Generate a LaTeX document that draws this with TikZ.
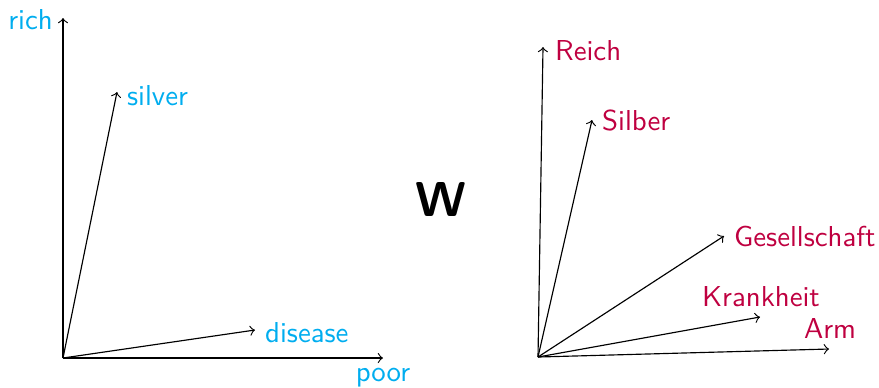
\documentclass[tikz,border=0pt]{standalone}
\begin{document}
\begin{tikzpicture}[x=0.347pt,y=-0.347pt,font=\sffamily,
  vec/.style={->},
  en/.style={text=cyan},
  de/.style={text=purple}]
\useasboundingbox (0,0) rectangle (879,387);
% left space
\coordinate (o1) at (63,358);
\coordinate (rich) at (63,18);
\coordinate (silver) at (117,92);
\coordinate (disease) at (255,330);
\coordinate (poor) at (383,358);
\draw[vec] (o1) -- (rich);
\draw[vec] (o1) -- (silver);
\draw[vec] (o1) -- (disease);
\draw[vec] (o1) -- (poor);
\node[en,anchor=east] (lrich) at (63,20) {rich};
\node[en,anchor=west] (lsilver) at (117,96) {silver};
\node[en,anchor=west] (ldisease) at (255,333) {disease};
\node[en,anchor=north] (lpoor) at (383,358) {poor};
% W
\node[font=\sffamily\bfseries\fontsize{17}{20}\selectfont] (W) at (441,199) {W};
% right space
\coordinate (o2) at (538,357);
\coordinate (reich) at (543,47);
\coordinate (silber) at (592,120);
\coordinate (ges) at (724,236);
\coordinate (krank) at (760,317);
\coordinate (arm) at (829,349);
\draw[vec] (o2) -- (reich);
\draw[vec] (o2) -- (silber);
\draw[vec] (o2) -- (ges);
\draw[vec] (o2) -- (krank);
\draw[vec] (o2) -- (arm);
\node[de,anchor=west] (lreich) at (545,51) {Reich};
\node[de,anchor=west] (lsilber) at (592,120) {Silber};
\node[de,anchor=west] (lges) at (724,236) {Gesellschaft};
\node[de,anchor=south] (lkrank) at (761,317) {Krankheit};
\node[de,anchor=south] (larm) at (830,349) {Arm};
\end{tikzpicture}
\end{document}
